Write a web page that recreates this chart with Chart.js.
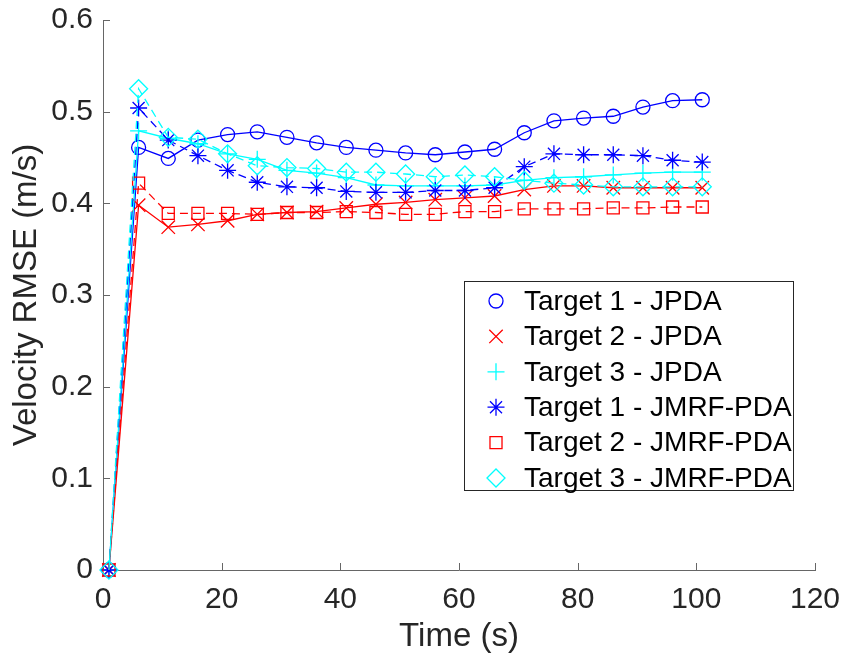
<!DOCTYPE html>
<html>
<head>
<meta charset="utf-8">
<script src="https://cdn.jsdelivr.net/npm/chart.js@4.4.0/dist/chart.umd.min.js"></script>
<style>
  html, body { margin: 0; padding: 0; background: #fff; }
  #wrap { width: 845px; height: 662px; }
</style>
</head>
<body>
<div id="wrap"><canvas id="rmseChart" width="845" height="662"></canvas></div>
<script>
(function () {
  'use strict';

  var TIMES = [1, 6, 11, 16, 21, 26, 31, 36, 41, 46, 51, 56, 61, 66, 71, 76, 81, 86, 91, 96, 101];
  var T1_JPDA = [0, 0.461, 0.449, 0.469, 0.475, 0.478, 0.472, 0.466, 0.461, 0.458, 0.455, 0.453, 0.456, 0.459, 0.477, 0.490, 0.493, 0.495, 0.505, 0.512, 0.513];
  var T2_JPDA = [0, 0.398, 0.374, 0.377, 0.381, 0.388, 0.390, 0.391, 0.395, 0.399, 0.401, 0.404, 0.406, 0.408, 0.415, 0.419, 0.419, 0.417, 0.417, 0.417, 0.417];
  var T3_JPDA = [0, 0.479, 0.471, 0.465, 0.454, 0.448, 0.436, 0.433, 0.428, 0.420, 0.419, 0.419, 0.419, 0.420, 0.425, 0.428, 0.429, 0.431, 0.433, 0.434, 0.434];
  var T1_JMRF = [0, 0.504, 0.469, 0.452, 0.436, 0.423, 0.418, 0.417, 0.413, 0.412, 0.412, 0.414, 0.414, 0.417, 0.440, 0.454, 0.453, 0.453, 0.452, 0.447, 0.445];
  var T2_JMRF = [0, 0.422, 0.389, 0.389, 0.389, 0.388, 0.390, 0.390, 0.391, 0.390, 0.388, 0.388, 0.391, 0.391, 0.394, 0.394, 0.394, 0.395, 0.395, 0.396, 0.396];
  var T3_JMRF = [0, 0.525, 0.472, 0.470, 0.454, 0.441, 0.439, 0.438, 0.434, 0.434, 0.432, 0.429, 0.431, 0.429, 0.425, 0.422, 0.420, 0.418, 0.418, 0.418, 0.418];

  var SERIES_LABELS = ['Target 1 - JPDA', 'Target 2 - JPDA', 'Target 3 - JPDA', 'Target 1 - JMRF-PDA', 'Target 2 - JMRF-PDA', 'Target 3 - JMRF-PDA'];
  var X_TICKS = [0, 20, 40, 60, 80, 100, 120];
  var Y_TICKS = [0, 0.1, 0.2, 0.3, 0.4, 0.5, 0.6];

  var FONT = "'Liberation Sans', Arial, Helvetica, sans-serif";
  var AXIS_COLOR = '#666666';
  var TEXT_COLOR = '#262626';

  function pts(values) {
    return values.map(function (v, i) { return { x: TIMES[i], y: v }; });
  }

  function series(i, values, color, style, radius, dashed) {
    return {
      label: SERIES_LABELS[i],
      data: pts(values),
      borderColor: color,
      backgroundColor: 'rgba(0,0,0,0)',
      borderWidth: 1.3,
      borderDash: dashed ? [8, 5] : [],
      tension: 0,
      fill: false,
      clip: false,
      pointStyle: style,
      pointRadius: radius,
      pointBorderColor: color,
      pointBackgroundColor: 'rgba(0,0,0,0)',
      pointBorderWidth: 1.3,
      order: 6 - i
    };
  }

  // MATLAB style ticks pointing into the plot
  var inwardTicks = {
    id: 'inwardTicks',
    beforeDatasetsDraw: function (chart) {
      var ctx = chart.ctx, a = chart.chartArea;
      var xs = chart.scales.x, ys = chart.scales.y;
      ctx.save();
      ctx.strokeStyle = AXIS_COLOR;
      ctx.lineWidth = 1;
      ctx.beginPath();
      X_TICKS.forEach(function (t) {
        var px = Math.round(xs.getPixelForValue(t)) + 0.5;
        ctx.moveTo(px, a.bottom);
        ctx.lineTo(px, a.bottom - 7);
      });
      Y_TICKS.forEach(function (t) {
        var py = Math.round(ys.getPixelForValue(t)) + 0.5;
        ctx.moveTo(a.left, py);
        ctx.lineTo(a.left + 7, py);
      });
      ctx.stroke();
      ctx.restore();
    }
  };

  // legend box inside the axes, like MATLAB's 'Location','east'
  var boxLegend = {
    id: 'boxLegend',
    afterDraw: function (chart) {
      var ctx = chart.ctx;
      var bx = 464.5, by = 281.5, bw = 329, bh = 209;
      var rowY = 301, pitch = 35.4;
      ctx.save();
      ctx.fillStyle = '#ffffff';
      ctx.fillRect(bx, by, bw, bh);
      ctx.strokeStyle = TEXT_COLOR;
      ctx.lineWidth = 1;
      ctx.strokeRect(bx, by, bw, bh);
      ctx.font = '28px ' + FONT;
      ctx.textBaseline = 'middle';
      ctx.textAlign = 'left';
      chart.data.datasets.forEach(function (ds, i) {
        var y = rowY + i * pitch;
        ctx.strokeStyle = ds.borderColor;
        ctx.fillStyle = 'rgba(0,0,0,0)';
        ctx.lineWidth = 1.3;
        Chart.helpers.drawPoint(ctx, { pointStyle: ds.pointStyle, radius: ds.pointRadius, borderWidth: 1.3, rotation: 0 }, 496, y);
        ctx.fillStyle = '#000000';
        ctx.fillText(ds.label, 524, y + 1);
      });
      ctx.restore();
    }
  };

  var BLUE = '#0000ff', RED = '#ff0000', CYAN = '#00ffff';

  new Chart(document.getElementById('rmseChart'), {
    type: 'line',
    data: {
      datasets: [
        series(0, T1_JPDA, BLUE, 'circle', 7, false),
        series(1, T2_JPDA, RED, 'crossRot', 9.5, false),
        series(2, T3_JPDA, CYAN, 'cross', 8.5, false),
        series(3, T1_JMRF, BLUE, 'star', 8.5, true),
        series(4, T2_JMRF, RED, 'rect', 8.5, true),
        series(5, T3_JMRF, CYAN, 'rectRot', 9, true)
      ]
    },
    options: {
      responsive: false,
      animation: false,
      devicePixelRatio: 1,
      layout: { padding: { top: 20, right: 30, left: 0, bottom: 0 } },
      plugins: { legend: { display: false }, tooltip: { enabled: false } },
      scales: {
        x: {
          type: 'linear',
          min: 0,
          max: 120,
          afterBuildTicks: function (s) { s.ticks = X_TICKS.map(function (v) { return { value: v }; }); },
          afterFit: function (s) { s.height = 92; s.paddingLeft = 0; s.paddingRight = 0; },
          grid: { display: false, drawTicks: false },
          border: { display: true, color: AXIS_COLOR, width: 1 },
          ticks: { padding: 12, color: TEXT_COLOR, font: { size: 30, family: FONT }, maxRotation: 0 },
          title: { display: true, text: 'Time (s)', color: TEXT_COLOR, font: { size: 33, family: FONT }, padding: { top: 0, bottom: 5 } }
        },
        y: {
          type: 'linear',
          min: 0,
          max: 0.6,
          afterBuildTicks: function (s) { s.ticks = Y_TICKS.map(function (v) { return { value: v }; }); },
          afterFit: function (s) { s.width = 103; s.paddingTop = 0; s.paddingBottom = 0; },
          grid: { display: false, drawTicks: false },
          border: { display: true, color: AXIS_COLOR, width: 1 },
          ticks: {
            padding: 10, color: TEXT_COLOR, font: { size: 30, family: FONT },
            callback: function (v) { return String(Math.round(v * 10) / 10); }
          },
          title: { display: true, text: 'Velocity RMSE (m/s)', color: TEXT_COLOR, font: { size: 33, family: FONT }, padding: { top: 7, bottom: 0 } }
        }
      }
    },
    plugins: [inwardTicks, boxLegend]
  });
})();
</script>
</body>
</html>
